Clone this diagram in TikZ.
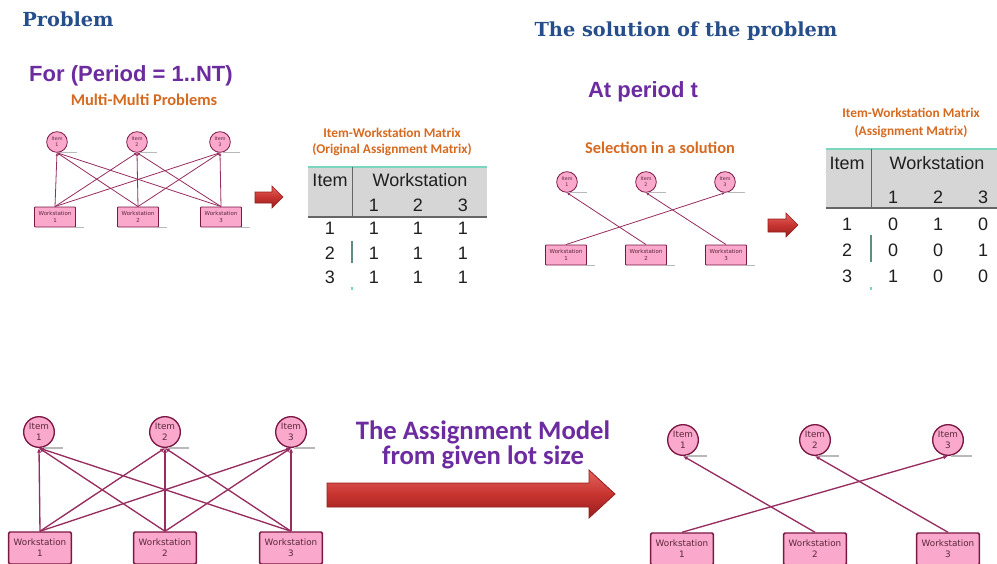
\documentclass[tikz,border=0pt]{standalone}
\usepackage{fontspec}
\setmainfont{DejaVu Sans}
\newfontfamily\headfont{DejaVu Serif}
\newfontfamily\arialfont{Liberation Sans}
\newfontfamily\califont{Carlito}
\usetikzlibrary{arrows.meta}

\definecolor{headblue}{RGB}{38,78,138}
\definecolor{violettxt}{RGB}{108,44,160}
\definecolor{orangetxt}{RGB}{214,106,32}
\definecolor{pinkfill}{RGB}{250,168,204}
\definecolor{nodeline}{RGB}{122,24,68}
\definecolor{edgecol}{RGB}{150,44,96}
\definecolor{nodetxt}{RGB}{90,40,60}
\definecolor{hdrgray}{RGB}{214,214,214}
\definecolor{tealline}{RGB}{122,214,190}
\definecolor{tealbar}{RGB}{96,140,130}
\definecolor{arrowtop}{RGB}{228,100,95}
\definecolor{arrowmid}{RGB}{200,52,48}
\definecolor{arrowbot}{RGB}{150,30,30}

\tikzset{
  itemsmall/.style={circle, draw=nodeline, fill=pinkfill, line width=0.6pt,
    minimum size=15.5pt, inner sep=0pt, align=center, text=nodetxt,
    font=\fontsize{3.6}{4.4}\selectfont},
  wssmall/.style={rectangle, rounded corners=0.6pt, draw=nodeline, fill=pinkfill,
    line width=0.7pt, minimum width=30.75pt, minimum height=15pt, inner sep=0pt,
    align=center, text=nodetxt, font=\fontsize{4.1}{4.8}\selectfont},
  itembig/.style={circle, draw=nodeline, fill=pinkfill, line width=1pt,
    minimum size=23pt, inner sep=0pt, align=center, text=nodetxt,
    font=\fontsize{6.6}{8.6}\selectfont},
  wsbig/.style={rectangle, rounded corners=1pt, draw=nodeline, fill=pinkfill,
    line width=1.1pt, minimum width=47pt, minimum height=24pt, inner sep=0pt,
    align=center, text=nodetxt, font=\fontsize{6.6}{8.4}\selectfont},
  linksmall/.style={draw=edgecol, line width=0.6pt, -{Latex[length=2.2pt,width=2pt]}},
  linkbig/.style={draw=edgecol, line width=1pt, -{Latex[length=3.5pt,width=3.2pt]}},
  shade line/.style={draw=gray!55, line width=1.1pt},
  heading/.style={font=\headfont\bfseries\fontsize{14.5}{17}\selectfont, text=headblue},
  purplehead/.style={font=\arialfont\bfseries\fontsize{16.5}{19}\selectfont, text=violettxt},
  orangelabel/.style={font=\califont\bfseries\fontsize{12.3}{14}\selectfont, text=orangetxt},
  mtxtitle/.style={font=\califont\bfseries\fontsize{10}{12}\selectfont, text=orangetxt},
  cell/.style={font=\arialfont\fontsize{13.5}{15}\selectfont, text=black!88, inner sep=0pt},
  blockarrow/.style={top color=arrowtop, bottom color=arrowbot, middle color=arrowmid,
    draw=arrowbot, line width=0.4pt},
}

\begin{document}
\begin{tikzpicture}[x=0.75pt,y=-0.75pt]
\clip (0,0) rectangle (997,564);
\fill[white] (0,0) rectangle (997,564);

% ---------- headings ----------
\node[heading] (hprob) at (68,19) {Problem};
\node[heading] (hsol) at (686,31) {The solution of the problem};
\node[purplehead] (hfor) at (131,76) {For (Period = 1..NT)};
\node[orangelabel] (hmulti) at (144,100) {Multi-Multi Problems};
\node[purplehead] (hat) at (643,92) {At period t};
\node[orangelabel] (hsel) at (660,148) {Selection in a solution};

% ---------- small graph: all pairs ----------
\foreach \n/\x in {1/57,2/137,3/220}
  \node[itemsmall] (a\n) at (\x,142) {Item\\\n};
\foreach \n/\x in {1/55,2/138,3/221}
  \node[wssmall] (aw\n) at (\x,217) {Workstation\\\n};
\foreach \n in {1,2,3}{
  \draw[shade line] ([xshift=2pt]a\n.south) -- ++(13pt,0);
  \draw[shade line] ([xshift=-2pt]aw\n.south east) -- ++(8pt,0);
}
\foreach \w in {1,2,3}
  \foreach \i in {1,2,3}
    \draw[linksmall] (aw\w.north) -- (a\i.south);

% ---------- small graph: selected pairs ----------
\foreach \n/\x in {1/567,2/646,3/725}
  \node[itemsmall] (b\n) at (\x,182) {Item\\\n};
\foreach \n/\x in {1/566,2/646,3/726}
  \node[wssmall] (bw\n) at (\x,255) {Workstation\\\n};
\foreach \n in {1,2,3}{
  \draw[shade line] ([xshift=2pt]b\n.south) -- ++(13pt,0);
  \draw[shade line] ([xshift=-2pt]bw\n.south east) -- ++(8pt,0);
}
\draw[linksmall] (bw2.north) -- (b1.south);
\draw[linksmall] (bw3.north) -- (b2.south);
\draw[linksmall] (bw1.north) -- (b3.south);

% ---------- small block arrows ----------
\path[blockarrow] (255,192) -- (272,192) -- (272,186) -- (283,197) -- (272,208)
  -- (272,203) -- (255,203) -- cycle;
\path[blockarrow] (768,219) -- (786,219) -- (786,213) -- (798,225) -- (786,237)
  -- (786,232) -- (768,232) -- cycle;

% ---------- original assignment matrix ----------
\node[mtxtitle] (t1a) at (392,133) {Item-Workstation Matrix};
\node[mtxtitle] (t1b) at (392,150) {(Original Assignment Matrix)};
\fill[hdrgray] (308,167) rectangle (487,217);
\draw[tealline, line width=1.3pt] (308,167) -- (487,167);
\draw[black!60, line width=1.2pt] (308,217) -- (487,217);
\draw[black!60, line width=0.6pt] (352,167) -- (352,217);
\node[cell] (m1item) at (330,180) {Item};
\node[cell] (m1ws) at (420,180) {Workstation};
\foreach \c/\x in {1/374,2/418,3/463}
  \node[cell] (m1h\c) at (\x,205) {\c};
\foreach \r/\y in {1/228,2/253,3/277}{
  \node[cell] (m1r\r) at (330,\y) {\r};
  \foreach \c/\x in {1/374,2/418,3/463}
    \node[cell] (m1v\r\c) at (\x,\y) {1};
}
\draw[tealbar, line width=1.4pt] (352,241) -- (352,263);
\draw[tealline, line width=1.4pt] (352,287) -- (352,289.5);

% ---------- assignment matrix of the solution ----------
\node[mtxtitle] (t2a) at (911,113) {Item-Workstation Matrix};
\node[mtxtitle] (t2b) at (911,132) {(Assignment Matrix)};
\fill[hdrgray] (826,149) rectangle (997,208);
\draw[tealline, line width=1.3pt] (826,149) -- (997,149);
\draw[black!60, line width=1.2pt] (826,208) -- (997,208);
\draw[black!60, line width=0.6pt] (871,149) -- (871,208);
\node[cell] (m2item) at (847,163) {Item};
\node[cell] (m2ws) at (937,163) {Workstation};
\foreach \c/\x in {1/893,2/938,3/983}
  \node[cell] (m2h\c) at (\x,197) {\c};
\foreach \r/\y/\va/\vb/\vc in {1/224/0/1/0,2/250/0/0/1,3/276/1/0/0}{
  \node[cell] (m2r\r) at (847,\y) {\r};
  \node[cell] (m2v\r1) at (893,\y) {\va};
  \node[cell] (m2v\r2) at (938,\y) {\vb};
  \node[cell] (m2v\r3) at (983,\y) {\vc};
}
\draw[tealbar, line width=1.4pt] (871,235) -- (871,262);
\draw[tealline, line width=1.4pt] (871,287) -- (871,289.5);

% ---------- large graph: all pairs ----------
\foreach \n/\x in {1/39,2/165,3/291}
  \node[itembig] (c\n) at (\x,432) {Item\\\n};
\foreach \n/\x in {1/40,2/165,3/291}
  \node[wsbig] (cw\n) at (\x,548) {Workstation\\\n};
\foreach \n in {1,2,3}{
  \draw[shade line, line width=1.6pt] ([xshift=2pt]c\n.south) -- ++(16pt,0);
  \draw[shade line, line width=1.6pt] ([xshift=-2pt]cw\n.south east) -- ++(9pt,0);
}
\foreach \w in {1,2,3}
  \foreach \i in {1,2,3}
    \draw[linkbig] (cw\w.north) -- (c\i.south);

% ---------- large block arrow with caption ----------
\node[font=\califont\bfseries\fontsize{20}{18.5}\selectfont, text=violettxt, align=center]
  (model) at (483,445) {The Assignment Model\\from given lot size};
\path[blockarrow, line width=0.6pt] (327,483) -- (589,483) -- (589,470) -- (615,494)
  -- (589,518) -- (589,507) -- (327,507) -- cycle;

% ---------- large graph: selected pairs ----------
\foreach \n/\x in {1/683,2/815,3/948}
  \node[itembig] (d\n) at (\x,440) {Item\\\n};
\foreach \n/\x in {1/682,2/815,3/948}
  \node[wsbig] (dw\n) at (\x,549) {Workstation\\\n};
\foreach \n in {1,2,3}{
  \draw[shade line, line width=1.6pt] ([xshift=2pt]d\n.south) -- ++(16pt,0);
  \draw[shade line, line width=1.6pt] ([xshift=-2pt]dw\n.south east) -- ++(9pt,0);
}
\draw[linkbig] (dw2.north) -- (d1.south);
\draw[linkbig] (dw3.north) -- (d2.south);
\draw[linkbig] (dw1.north) -- (d3.south);
\end{tikzpicture}
\end{document}
